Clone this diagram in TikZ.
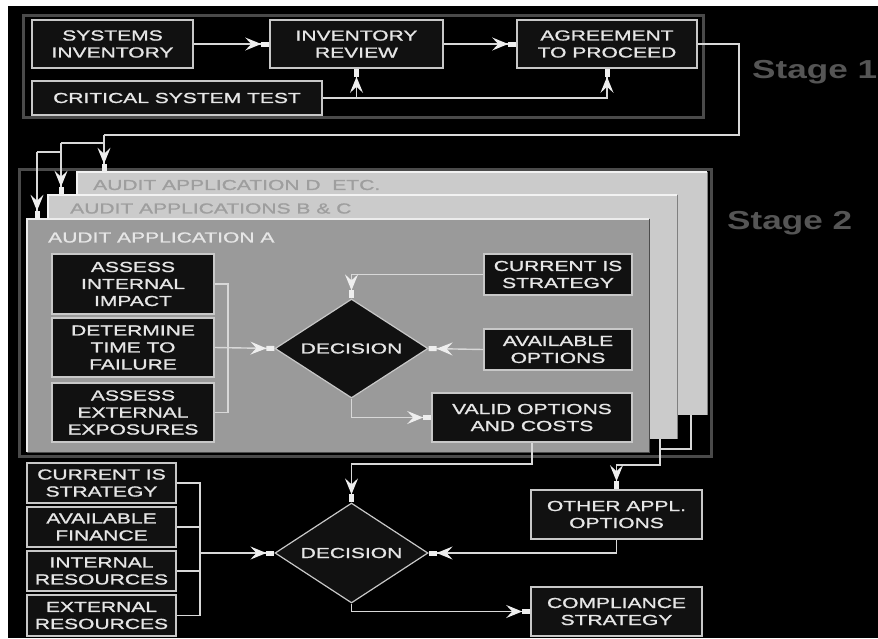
\documentclass[tikz,border=0pt]{standalone}
\usepackage{fontspec}
\usetikzlibrary{arrows.meta,shapes.geometric}
\newfontfamily\boxfont[FakeStretch=1.45,FakeBold=1.2]{Liberation Sans}
\newfontfamily\stagefont[FakeStretch=1.35]{Liberation Sans}
\definecolor{boxfill}{HTML}{111111}
\definecolor{boxline}{HTML}{C8C8C8}
\definecolor{txt}{HTML}{E6E6E6}
\definecolor{frm}{HTML}{4A4A4A}
\definecolor{pale}{HTML}{CBCBCB}
\definecolor{panA}{HTML}{9A9A9A}
\definecolor{lbl}{HTML}{9E9E9E}
\definecolor{stagec}{HTML}{555555}
\definecolor{conn}{HTML}{D8D8D8}
\definecolor{tipc}{HTML}{EEEEEE}
\begin{document}
\begin{tikzpicture}[x=1pt,y=-1pt,
  bfont/.style={font=\boxfont\fontsize{14.5}{17}\selectfont},
  box/.style={bfont,draw=boxline,fill=boxfill,line width=1.6pt,text=txt,align=center,inner sep=0pt},
  dia/.style={bfont,diamond,draw=boxline,fill=boxfill,line width=1.2pt,text=txt,inner sep=0pt,aspect=1.55},
  panel/.style={inner sep=0pt,draw=none},
  frame/.style={draw=frm,line width=3pt},
  line/.style={draw=conn,line width=1.4pt},
  arr/.style={line,-{Stealth[length=16pt,width=13pt,inset=6pt,sep=0pt,color=tipc]Rectangle[length=8pt,width=5pt,color=tipc]}},
  lab/.style={bfont,anchor=west,inner sep=0pt},
  stage/.style={anchor=west,inner sep=0pt,text=stagec,font=\stagefont\bfseries\fontsize{26}{28}\selectfont}
]
\clip (0,0) rectangle (878,638);
\useasboundingbox (0,0) rectangle (878,638);
\fill[white] (0,0) rectangle (878,638);
\fill[black] (8,6) rectangle (878,638);

% ---- Stage 1 ----
\draw[frame] (23.5,15.5) rectangle (703,117);
\node[box,minimum width=161pt,minimum height=48pt] (si) at (112.5,44) {SYSTEMS\\INVENTORY};
\node[box,minimum width=173pt,minimum height=48pt] (ir) at (356.5,44) {INVENTORY\\REVIEW};
\node[box,minimum width=180pt,minimum height=48pt] (ap) at (607,44) {AGREEMENT\\TO PROCEED};
\node[box,minimum width=290pt,minimum height=34pt] (ct) at (177,98) {CRITICAL SYSTEM TEST};
\node[stage] (st1) at (752,72) {Stage 1};

% ---- Stage 2 ----
\draw[frame] (19.5,169.5) rectangle (711.5,456);
\node[panel,fill=pale,minimum width=630pt,minimum height=243pt] (appD) at (392,293.5) {};
\draw[white!90!gray,line width=1.4pt] (appD.south west) |- (appD.north east);
\draw[gray,line width=1pt] (appD.north east) -- (appD.south east);
\node[lab,text=lbl] (labD) at (93,185) {AUDIT APPLICATION D\ \ ETC.};
\node[panel,fill=pale,minimum width=629pt,minimum height=244pt] (appB) at (362.5,317) {};
\draw[white!90!gray,line width=1.4pt] (appB.south west) |- (appB.north east);
\draw[gray,line width=1pt] (appB.north east) -- (appB.south east);
\node[lab,text=lbl] (labB) at (70,208.5) {AUDIT APPLICATIONS B \& C};
\node[panel,fill=panA,minimum width=622pt,minimum height=233pt] (appA) at (338,335.5) {};
\draw[white!85!gray,line width=1.4pt] (appA.south west) |- (appA.north east);
\draw[black!70,line width=1.4pt] (appA.north east) |- (appA.south west);
\node[lab,text=txt] (labA) at (48,237.5) {AUDIT APPLICATION A};
\node[stage] (st2) at (727,223) {Stage 2};

\node[box,minimum width=162pt,minimum height=60pt] (aii) at (133,284) {ASSESS\\INTERNAL\\IMPACT};
\node[box,minimum width=162pt,minimum height=59pt] (dtf) at (133,347.5) {DETERMINE\\TIME TO\\FAILURE};
\node[box,minimum width=162pt,minimum height=59pt] (aee) at (133,412.5) {ASSESS\\EXTERNAL\\EXPOSURES};
\node[dia,minimum width=153pt,minimum height=99pt] (dec1) at (351.5,348.5) {DECISION};
\node[box,minimum width=148pt,minimum height=41pt] (cis1) at (558,274.5) {CURRENT IS\\STRATEGY};
\node[box,minimum width=148pt,minimum height=41pt] (ao) at (558,349.5) {AVAILABLE\\OPTIONS};
\node[box,minimum width=200pt,minimum height=49pt] (voc) at (532,417.5) {VALID OPTIONS\\AND COSTS};

% ---- Final decision ----
\node[box,minimum width=149pt,minimum height=40pt] (cis2) at (101.5,483) {CURRENT IS\\STRATEGY};
\node[box,minimum width=149pt,minimum height=40pt] (af) at (101.5,527) {AVAILABLE\\FINANCE};
\node[box,minimum width=149pt,minimum height=40pt] (inr) at (101.5,571) {INTERNAL\\RESOURCES};
\node[box,minimum width=149pt,minimum height=41pt] (exr) at (101.5,615.5) {EXTERNAL\\RESOURCES};
\node[dia,minimum width=153pt,minimum height=100pt] (dec2) at (351.5,553) {DECISION};
\node[box,minimum width=171pt,minimum height=49pt] (oao) at (616.5,514.5) {OTHER APPL.\\OPTIONS};
\node[box,minimum width=171pt,minimum height=49pt] (cs) at (616.5,611.5) {COMPLIANCE\\STRATEGY};

% ---- connectors: stage 1 ----
\draw[arr] (si.east) -- (ir.west);
\draw[arr] (ir.east) -- (ap.west);
\draw[arr] (ct.east) -| (ap.south);
\draw[arr] (ct.east -| ir.south) -- (ir.south);

% ---- stage 1 to stage 2 ----
\coordinate (s1out) at (739,135);
\coordinate (jD) at (104,135);
\coordinate (jB) at (61,143);
\coordinate (jA) at (37,152);
\draw[line] (ap.east) -| (s1out) -- (jD);
\draw[arr] (jD) -- (jD |- appD.north);
\draw[line] (jD |- jB) -- (jB);
\draw[arr] (jB) -- (jB |- appB.north);
\draw[line] (jB |- jA) -- (jA);
\draw[arr] (jA) -- (jA |- appA.north);

% ---- inside application A ----
\coordinate (brk1) at (228,347.5);
\draw[line] (aii.east) -| (brk1);
\draw[line] (aee.east) -| (brk1);
\draw[arr] (dtf.east) -- (dec1.west);
\draw[arr] (cis1.west) -| (dec1.north);
\draw[arr] (ao.west) -- (dec1.east);
\draw[arr] (dec1.south) |- (voc.west);

% ---- out of stage 2 ----
\draw[arr] (voc.south) -- ++(0,21) -| (dec2.north);
\coordinate (dd) at (691,449);
\coordinate (bb) at (660,465);
\draw[line] (dd |- appD.south) -- (dd) -- (dd -| bb);
\draw[arr] (bb |- appB.south) -- (bb) -| (oao.north);
\draw[arr] (oao.south) |- (dec2.east);
\draw[arr] (dec2.south) |- (cs.west);

% ---- lower bracket ----
\coordinate (brk2) at (200,553);
\draw[line] (cis2.east) -| (brk2);
\draw[line] (af.east) -| (brk2);
\draw[line] (inr.east) -| (brk2);
\draw[line] (exr.east) -| (brk2);
\draw[arr] (brk2) -- (dec2.west);
\end{tikzpicture}
\end{document}
